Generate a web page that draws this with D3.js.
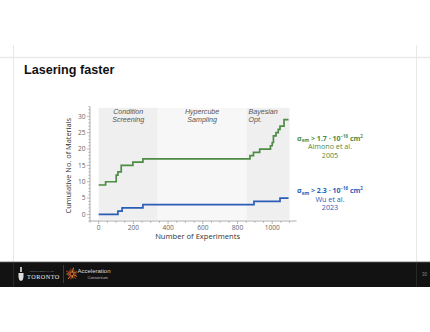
<!DOCTYPE html>
<html><head><meta charset="utf-8">
<script src="https://cdn.jsdelivr.net/npm/d3@7"></script>
<style>
html,body{margin:0;padding:0;background:#fff;}
svg{display:block;}
</style></head>
<body>
<svg id="c" width="430" height="332"></svg>
<script>
// ---- data ----
const phaseNames = [["Condition","Screening"],["Hypercube","Sampling"],["Bayesian","Opt."]];
const phaseStart = [0, 340, 852];
const phaseEnd = [340, 852, 1100];
const greenStepX = [0, 40, 101, 111, 130, 197, 255, 872, 892, 928, 990, 1000, 1007, 1022, 1035, 1045, 1068];
const greenStepY = [9, 10, 12, 13, 15, 16, 17, 18, 19, 20, 21, 22, 24, 25, 26, 27, 29];
const blueStepX = [0, 111, 135, 255, 895, 1045];
const blueStepY = [0, 1, 2, 3, 4, 5];
const seriesEndX = 1094;
const xTicks = [0, 200, 400, 600, 800, 1000];
const yTicks = [0, 5, 10, 15, 20, 25, 30];

const svg = d3.select("#c");
const W = 430, H = 332;

// slide frame
svg.append("rect").attr("width",W).attr("height",H).attr("fill","#fff");
svg.append("line").attr("x1",0).attr("x2",W).attr("y1",57.5).attr("y2",57.5).attr("stroke","#e9e9e9").attr("stroke-width",1.5);
[13.5,416.5].forEach(x=>svg.append("line").attr("x1",x).attr("x2",x).attr("y1",45).attr("y2",262).attr("stroke","#e2e2e2").attr("stroke-width",0.8));

svg.append("text").attr("x",24).attr("y",74).attr("font-family","Liberation Sans, Arial, sans-serif")
  .attr("font-weight","bold").attr("font-size",12.6).attr("fill","#111").text("Lasering faster");

// scales
const x = d3.scaleLinear().domain([-50, 1140]).range([90, 296.5]);
const y = d3.scaleLinear().domain([-2, 33]).range([221, 106.5]);
const F = "Open Sans, Noto Sans, sans-serif";

// phase shading
const shade = ["#efefef","#f7f7f7","#efefef"];
phaseStart.forEach((s,i)=>{
  svg.append("rect").attr("x",x(s)).attr("y",y(32.6)).attr("width",x(phaseEnd[i])-x(s))
    .attr("height",y(-1.6)-y(32.6)).attr("fill",shade[i]);
});
phaseNames.forEach((lines,i)=>{
  const left = i===2;
  const cx = left ? x(phaseStart[i])+2 : (x(phaseStart[i])+x(phaseEnd[i]))/2;
  lines.forEach((s,j)=>{
    svg.append("text").attr("x",cx).attr("y",114.2+j*7.9).attr("text-anchor",left?"start":"middle")
      .attr("font-family","Liberation Sans, Arial, sans-serif").attr("font-style","italic")
      .attr("font-size",7.1).attr("fill","#555").text(s);
  });
});

// axes
const axCol = "#8a8a8a";
const gx = svg.append("g").attr("transform","translate(0,221)");
gx.append("line").attr("x1",90).attr("x2",296.5).attr("stroke",axCol).attr("stroke-width",0.7);
d3.range(-50,1141,50).forEach(v=>{
  const major = xTicks.includes(v);
  gx.append("line").attr("x1",x(v)).attr("x2",x(v)).attr("y1",0).attr("y2",major?3:1.8).attr("stroke",axCol).attr("stroke-width",0.6);
});
gx.selectAll("text.t").data(xTicks).join("text").attr("x",d=>x(d)).attr("y",9.2).attr("text-anchor","middle")
  .attr("font-family",F).attr("font-size",6.6).attr("fill","#666").text(d=>d);
svg.append("text").attr("x",x(570)).attr("y",239).attr("text-anchor","middle").attr("font-family",F)
  .attr("font-size",7.6).attr("fill","#333").text("Number of Experiments");

const gy = svg.append("g").attr("transform","translate(90,0)");
gy.append("line").attr("y1",y(-2)).attr("y2",y(33)).attr("stroke",axCol).attr("stroke-width",0.7);
d3.range(-2,34,1).forEach(v=>{
  const major = yTicks.includes(v);
  gy.append("line").attr("y1",y(v)).attr("y2",y(v)).attr("x1",0).attr("x2",major?-3:-1.6).attr("stroke",axCol).attr("stroke-width",0.6);
});
gy.selectAll("text.t").data(yTicks).join("text").attr("x",-4.5).attr("y",d=>y(d)+2.3).attr("text-anchor","end")
  .attr("font-family",F).attr("font-size",6.6).attr("fill","#666").text(d=>d);
svg.append("text").attr("transform",`translate(71,${(y(-2)+y(33))/2+2}) rotate(-90)`).attr("text-anchor","middle")
  .attr("font-family",F).attr("font-size",7.4).attr("fill","#333").text("Cumulative No. of Materials");

// step lines
const line = d3.line().x(d=>x(d[0])).y(d=>y(d[1])).curve(d3.curveStepAfter);
function pts(xs,ys){ const p = xs.map((v,i)=>[v,ys[i]]); p.push([seriesEndX, ys[ys.length-1]]); return p; }
svg.append("path").attr("d",line(pts(greenStepX,greenStepY))).attr("fill","none").attr("stroke","#4e8c46").attr("stroke-width",1.7);
svg.append("path").attr("d",line(pts(blueStepX,blueStepY))).attr("fill","none").attr("stroke","#2a5db8").attr("stroke-width",1.7);

// annotations
function annot(yc, col, val, a, b){
  const t = svg.append("text").attr("x",330).attr("y",yc).attr("text-anchor","middle").attr("font-family",F)
    .attr("font-size",7).attr("font-weight","bold").attr("fill",col);
  t.append("tspan").text("σ");
  t.append("tspan").attr("font-size",4.8).attr("dy",1.5).text("em");
  t.append("tspan").attr("dy",-1.5).text(" > "+val+" · 10");
  t.append("tspan").attr("font-size",4.4).attr("dy",-3).text("−16");
  t.append("tspan").attr("dy",3).text(" cm");
  t.append("tspan").attr("font-size",4.4).attr("dy",-3).text("2");
  svg.append("text").attr("x",330).attr("y",yc+8.5).attr("text-anchor","middle").attr("font-family",F)
    .attr("font-size",7.2).attr("fill",col).text(a);
  svg.append("text").attr("x",330).attr("y",yc+17).attr("text-anchor","middle").attr("font-family",F)
    .attr("font-size",7.2).attr("fill",col).text(b);
}
annot(140.5, "#4e8c46", "1.7", "Aimono et al.", "2005");
annot(193, "#2a5db8", "2.3", "Wu et al.", "2023");

// footer
svg.append("rect").attr("x",0).attr("y",262).attr("width",W).attr("height",25).attr("fill","#121212");
svg.append("line").attr("x1",0).attr("x2",W).attr("y1",262).attr("y2",262).attr("stroke","#666").attr("stroke-width",0.8);
[13.5,416.5].forEach(xx=>svg.append("line").attr("x1",xx).attr("x2",xx).attr("y1",262).attr("y2",287).attr("stroke","#2e2e2e").attr("stroke-width",0.8));
// UofT crest
svg.append("path").attr("d","M18.5,273 h5 v4 q0,3 -2.5,4 q-2.5,-1 -2.5,-4 z").attr("fill","#ddd");
svg.append("rect").attr("x",20).attr("y",267).attr("width",2).attr("height",5).attr("fill","#bbb");
svg.append("text").attr("x",30).attr("y",272).attr("font-family","Liberation Serif, serif").attr("font-size",2.6).attr("fill","#ccc").attr("letter-spacing",0.4).text("UNIVERSITY OF");
svg.append("text").attr("x",27).attr("y",279).attr("font-family","Liberation Serif, serif").attr("font-size",6.2).attr("fill","#eee").attr("letter-spacing",0.5).text("TORONTO");
svg.append("line").attr("x1",63.5).attr("x2",63.5).attr("y1",265).attr("y2",283).attr("stroke","#555").attr("stroke-width",0.6);
// AC starburst
const cols = ["#e0452b","#f08a2c","#c9331f","#f2a23a"];
d3.range(14).forEach(i=>{
  const a = i/14*2*Math.PI, r1 = 1.2, r2 = 4.5 + (i%3);
  svg.append("line").attr("x1",72+r1*Math.cos(a)).attr("y1",274+r1*Math.sin(a))
    .attr("x2",72+r2*Math.cos(a)).attr("y2",274+r2*Math.sin(a)).attr("stroke",cols[i%4]).attr("stroke-width",0.9);
});
svg.append("text").attr("x",77.5).attr("y",273).attr("font-family","Liberation Sans, sans-serif").attr("font-size",6).attr("fill","#ddd").text("Acceleration");
svg.append("text").attr("x",87.5).attr("y",278.5).attr("font-family","Liberation Sans, sans-serif").attr("font-size",4).attr("fill","#bbb").text("Consortium");
svg.append("text").attr("x",422).attr("y",276).attr("font-family","Liberation Sans, sans-serif").attr("font-size",4.5).attr("fill","#888").text("30");
</script>
</body></html>
